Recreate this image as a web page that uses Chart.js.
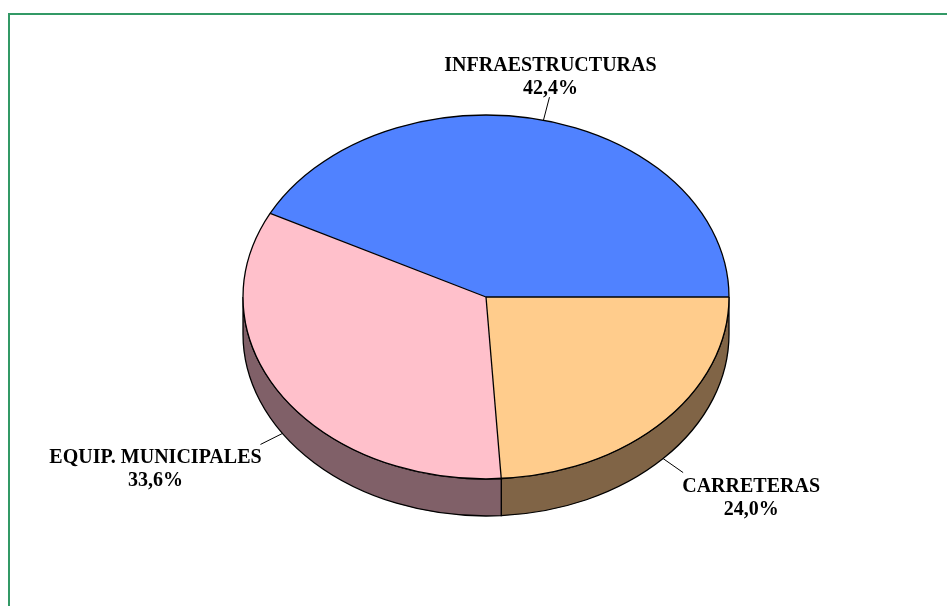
<!DOCTYPE html>
<html>
<head>
<meta charset="utf-8">
<script src="https://cdn.jsdelivr.net/npm/chart.js@4/dist/chart.umd.min.js"></script>
<style>
  html, body { margin: 0; padding: 0; background: #fff; }
  #wrap { position: relative; width: 947px; height: 606px; overflow: hidden; }
  #frame { position: absolute; left: 8px; top: 13px; right: -4px; bottom: -4px;
           border-left: 2px solid #339966; border-top: 2px solid #339966; }
  canvas { position: absolute; left: 0; top: 0; }
</style>
</head>
<body>
<div id="wrap">
  <div id="frame"></div>
  <canvas id="chart" width="947" height="606"></canvas>
</div>
<script>
// slices in clockwise order, starting at 3 o'clock
const categories = ["CARRETERAS", "EQUIP. MUNICIPALES", "INFRAESTRUCTURAS"];
const shares = [24.0, 33.6, 42.4];
const topColors = ["#FFCC8C", "#FFC0CB", "#5082FF"];
const sideColors = ["#806446", "#806068", "#284180"];

const SQUASH = 0.749; // ellipse ry / rx
const DEPTH = 37;     // thickness of the pie

const fmtPct = v => v.toFixed(1).replace(".", ",") + "%";

const pie3d = {
  id: "pie3d",
  beforeDatasetsDraw(chart) {
    const ctx = chart.ctx;
    const arcs = chart.getDatasetMeta(0).data;
    const { x, y, outerRadius: r } = arcs[0];
    const ry = r * SQUASH;

    // front walls (only the part between 0 and PI faces us)
    arcs.forEach((a, i) => {
      const s = Math.max(a.startAngle, 0);
      const e = Math.min(a.endAngle, Math.PI);
      if (e <= s) return;
      ctx.beginPath();
      ctx.ellipse(x, y, r, ry, 0, s, e, false);
      ctx.lineTo(x + r * Math.cos(e), y + ry * Math.sin(e) + DEPTH);
      ctx.ellipse(x, y + DEPTH, r, ry, 0, e, s, true);
      ctx.closePath();
      ctx.fillStyle = sideColors[i];
      ctx.fill();
      ctx.lineWidth = 1.3;
      ctx.strokeStyle = "#000";
      ctx.stroke();
    });

    // squash the circular pie into an ellipse
    ctx.save();
    ctx.translate(x, y);
    ctx.scale(1, SQUASH);
    ctx.translate(-x, -y);
  },
  afterDatasetsDraw(chart, args, opts) {
    const ctx = chart.ctx;
    ctx.restore();
    const arcs = chart.getDatasetMeta(0).data;
    const { x, y, outerRadius: r } = arcs[0];
    const ry = r * SQUASH;

    // outlines of the top face
    ctx.lineWidth = 1.3;
    ctx.strokeStyle = "#000";
    ctx.beginPath();
    ctx.ellipse(x, y, r, ry, 0, 0, Math.PI * 2);
    ctx.stroke();
    arcs.forEach(a => {
      ctx.beginPath();
      ctx.moveTo(x, y);
      ctx.lineTo(x + r * Math.cos(a.startAngle), y + ry * Math.sin(a.startAngle));
      ctx.stroke();
    });

    // labels with leader lines
    ctx.font = "bold 20px 'Liberation Serif', 'Times New Roman', serif";
    ctx.fillStyle = "#000";
    ctx.textAlign = "center";
    ctx.textBaseline = "alphabetic";
    arcs.forEach((a, i) => {
      const m = (a.startAngle + a.endAngle) / 2;
      const ax = x + r * Math.cos(m);
      const ay = y + ry * Math.sin(m) + (Math.sin(m) > 0 ? DEPTH : 0);
      const o = opts.offsets[i];
      ctx.lineWidth = 1;
      ctx.beginPath();
      ctx.moveTo(ax, ay);
      ctx.lineTo(ax + o.line[0], ay + o.line[1]);
      ctx.stroke();
      const tx = ax + o.text[0], ty = ay + o.text[1];
      ctx.fillText(categories[i], tx, ty);
      ctx.fillText(fmtPct(shares[i]), tx, ty + 23);
    });
  }
};

new Chart(document.getElementById("chart"), {
  type: "pie",
  data: {
    labels: categories,
    datasets: [{
      data: shares,
      backgroundColor: topColors,
      borderWidth: 0,
      radius: 243,
      hoverOffset: 0
    }]
  },
  options: {
    responsive: false,
    animation: false,
    rotation: 90,
    events: [],
    layout: { padding: { left: 25, right: 0, top: 0, bottom: 12 } },
    plugins: {
      legend: { display: false },
      tooltip: { enabled: false },
      pie3d: {
        offsets: [
          { line: [20, 14], text: [88, 33] },
          { line: [-22, 11], text: [-127, 30] },
          { line: [6, -23], text: [7, -49] }
        ]
      }
    }
  },
  plugins: [pie3d]
});
</script>
</body>
</html>
